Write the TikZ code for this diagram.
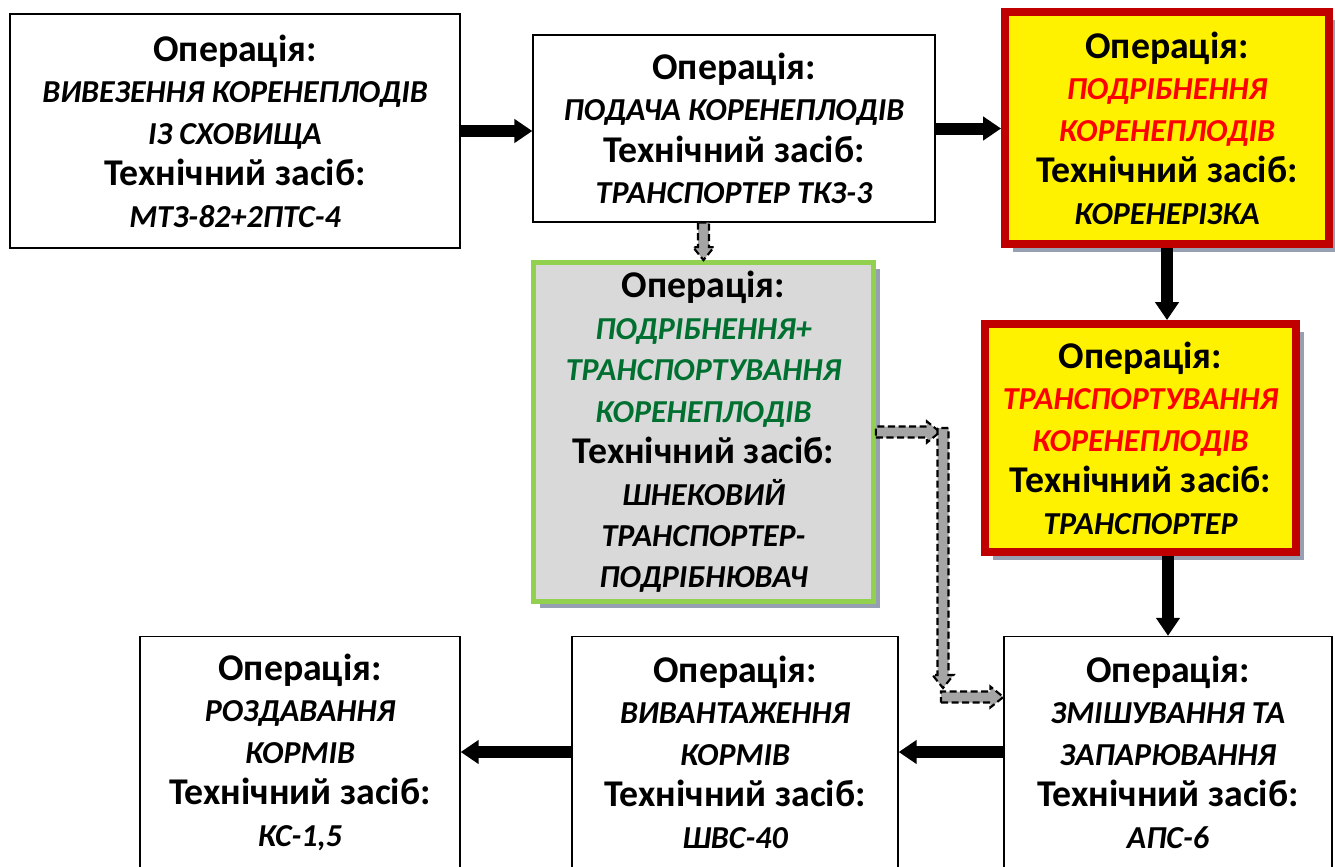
\documentclass[tikz,border=0pt]{standalone}
\usepackage{fontspec}
\setmainfont{Carlito}
\usetikzlibrary{arrows.meta,shadows,calc}

\definecolor{redbrd}{RGB}{192,0,0}
\definecolor{redtxt}{RGB}{255,0,0}
\definecolor{grntxt}{RGB}{0,112,48}
\definecolor{grnbrd}{RGB}{146,208,80}
\definecolor{graybox}{RGB}{217,217,217}
\definecolor{shadowcol}{RGB}{150,160,178}
\definecolor{dashfill}{RGB}{165,165,165}

% italic line of a box
\newcommand{\opline}[2][black]{{\color{#1}\itshape\fontsize{18.2}{23.6}\selectfont #2}}
\newcommand{\opname}{Операція:}
\newcommand{\toolname}{Технічний засіб:}

% sizes of the dashed block arrows
\def\arrsw{0.11cm}
\def\arrhw{0.21cm}
\def\arrhl{0.26cm}
\newcommand{\dashright}[2]{%
  \draw[dasharr] let \p1=#1, \p2=#2 in
    (\x1,\y1-\arrsw) -- (\x2-\arrhl,\y1-\arrsw) -- (\x2-\arrhl,\y1-\arrhw) -- (\x2,\y1)
    -- (\x2-\arrhl,\y1+\arrhw) -- (\x2-\arrhl,\y1+\arrsw) -- (\x1,\y1+\arrsw) -- cycle;}
\newcommand{\dashdown}[2]{%
  \draw[dasharr] let \p1=#1, \p2=#2 in
    (\x1-\arrsw,\y1) -- (\x1-\arrsw,\y2+\arrhl) -- (\x1-\arrhw,\y2+\arrhl) -- (\x1,\y2)
    -- (\x1+\arrhw,\y2+\arrhl) -- (\x1+\arrsw,\y2+\arrhl) -- (\x1+\arrsw,\y1) -- cycle;}

\tikzset{
  box/.style={draw=black, line width=0.8pt, fill=white, align=center, inner sep=0pt},
  redbox/.style={box, draw=redbrd, line width=4.5pt, fill=yellow,
    drop shadow={fill=shadowcol, opacity=1, shadow xshift=4.5pt, shadow yshift=-4.5pt}},
  grnbox/.style={box, draw=grnbrd, line width=2.8pt, fill=graybox,
    drop shadow={fill=shadowcol, opacity=1, shadow xshift=3.5pt, shadow yshift=-3.5pt}},
  blk/.style={line width=0.24cm, -{Triangle[width=0.46cm,length=0.36cm]}},
  dasharr/.style={draw=black, fill=dashfill, line width=1.2pt, dash pattern=on 4pt off 2pt}
}

\begin{document}
\begin{tikzpicture}[x=0.02cm, y=-0.02cm, font=\bfseries\fontsize{21.5}{23.6}\selectfont]
  \clip (0,0) rectangle (1335,866);

  % Top row
  \node[box, minimum width=9cm, minimum height=4.68cm] (b1) at (235,131)
    {\opname\\ \opline{ВИВЕЗЕННЯ КОРЕНЕПЛОДІВ}\\ \opline{ІЗ СХОВИЩА}\\ \toolname\\ \opline{МТЗ-82+2ПТС-4}};
  \node[box, minimum width=8.04cm, minimum height=3.74cm] (b2) at (734,128.5)
    {\opname\\ \opline{ПОДАЧА КОРЕНЕПЛОДІВ}\\ \toolname\\ \opline{ТРАНСПОРТЕР ТКЗ-3}};
  \node[redbox, minimum width=6.48cm, minimum height=4.65cm] (b3) at (1167,128)
    {\opname\\ \opline[redtxt]{ПОДРІБНЕННЯ}\\ \opline[redtxt]{КОРЕНЕПЛОДІВ}\\ \toolname\\ \opline{КОРЕНЕРІЗКА}};

  % Middle row
  \node[grnbox, minimum width=6.8cm, minimum height=6.78cm] (b4) at (703.5,432)
    {\opname\\ \opline[grntxt]{ПОДРІБНЕННЯ+}\\ \opline[grntxt]{ТРАНСПОРТУВАННЯ}\\ \opline[grntxt]{КОРЕНЕПЛОДІВ}\\
     \toolname\\ \opline{ШНЕКОВИЙ}\\ \opline{ТРАНСПОРТЕР-}\\ \opline{ПОДРІБНЮВАЧ}};
  \node[redbox, minimum width=6.22cm, minimum height=4.56cm] (b5) at (1140.5,438)
    {\opname\\ \opline[redtxt]{ТРАНСПОРТУВАННЯ}\\ \opline[redtxt]{КОРЕНЕПЛОДІВ}\\ \toolname\\ \opline{ТРАНСПОРТЕР}};

  % Bottom row
  \node[box, minimum width=6.56cm, minimum height=4.62cm] (b6) at (1168,752)
    {\opname\\ \opline{ЗМІШУВАННЯ ТА}\\ \opline{ЗАПАРЮВАННЯ}\\ \toolname\\ \opline{АПС-6}};
  \node[box, minimum width=6.52cm, minimum height=4.62cm] (b7) at (735,752)
    {\opname\\ \opline{ВИВАНТАЖЕННЯ}\\ \opline{КОРМІВ}\\ \toolname\\ \opline{ШВС-40}};
  \node[box, minimum width=6.4cm, minimum height=4.62cm] (b8) at (300,752)
    {\opname\\ \opline{РОЗДАВАННЯ}\\ \opline{КОРМІВ}\\ \toolname\\ \opline{КС-1,5}};

  % Main flow
  \draw[blk] (b1.east) -- (b1.east -| b2.west);
  \draw[blk] (b2.east) -- (b2.east -| b3.west);
  \draw[blk] (b3.south) -- (b3.south |- b5.north);
  \draw[blk] (b5.south -| b6.north) -- (b6.north);
  \draw[blk] (b6.west) -- (b6.west -| b7.east);
  \draw[blk] (b7.west) -- (b7.west -| b8.east);

  % Alternative flow
  \dashdown{(b2.south -| b4.north)}{(b4.north)}
  \coordinate (k1) at (940,432);
  \coordinate (k2) at (943,428);
  \coordinate (k3) at (943,688);
  \coordinate (k4) at (941,697);
  \dashright{(b4.east)}{(k1)}
  \dashdown{(k2)}{(k3)}
  \dashright{(k4)}{(k4 -| b6.west)}
\end{tikzpicture}
\end{document}
